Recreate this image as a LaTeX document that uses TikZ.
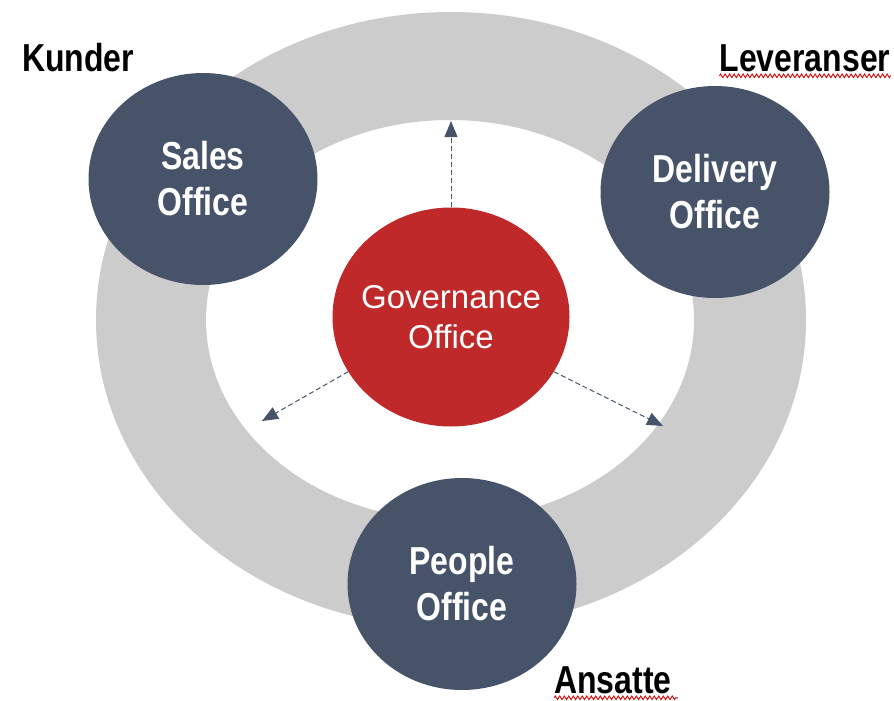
\documentclass[tikz,border=0pt]{standalone}
\usepackage{fontspec}
\usepackage{tikz}
\usetikzlibrary{shapes.geometric,arrows.meta,decorations.pathmorphing}

\newfontfamily\condfont{Liberation Sans}[FakeStretch=0.82]
\newfontfamily\govfont{Liberation Sans}

\definecolor{slate}{HTML}{465369}
\definecolor{govred}{HTML}{C0292A}
\definecolor{ringgray}{HTML}{CCCCCC}

\tikzset{
  office/.style={ellipse, fill=slate, text=white, inner sep=0pt,
    minimum width=229pt, minimum height=212pt, align=center,
    font=\condfont\bfseries\fontsize{39}{46}\selectfont},
  govoffice/.style={ellipse, fill=govred, text=white,
    inner xsep=-30pt, inner ysep=-20pt,
    minimum width=237pt, minimum height=219pt, align=center,
    font=\govfont\fontsize{33}{40}\selectfont},
  tag/.style={font=\condfont\bfseries\fontsize{39}{46}\selectfont, inner sep=0pt},
  flow/.style={draw=slate, dash pattern=on 5pt off 3pt, line width=1pt,
    -{Triangle[length=16pt,width=13pt]}},
  squiggle/.style={draw=red!85!black, line width=0.9pt,
    decorate, decoration={zigzag, segment length=4.5pt, amplitude=1.8pt}}
}

\begin{document}
\begin{tikzpicture}[x=1pt,y=-1pt]
  \useasboundingbox (0,0) rectangle (894,701);

  % Ring
  \fill[ringgray, even odd rule] (451,320) ellipse [x radius=355pt, y radius=308pt]
                                 (450,320) ellipse [x radius=244pt, y radius=200pt];

  % Governance in the middle
  \node[govoffice] (gov) at (451,317) {Governance\\Office};

  % Arrow ends
  \coordinate (upend) at (451,121);
  \coordinate (leftend) at (262,421);
  \coordinate (rightend) at (663,426);
  \draw[flow] (gov.north) -- (upend);
  \draw[flow] (gov.208) -- (leftend);
  \draw[flow] (gov.-28) -- (rightend);

  % Offices on the ring
  \node[office] (sales) at (203,179) {Sales\\Office};
  \node[office] (delivery) at (715,192) {Delivery\\Office};
  \node[office] (people) at (462,584) {People\\Office};

  % Labels
  \node[tag] (kunder) at (78,58) {Kunder};
  \node[tag] (leveranser) at (805,58) {Leveranser};
  \node[tag] (ansatte) at (613,680) {Ansatte};
  \draw[squiggle] ([yshift=-4pt]leveranser.south west) -- ([yshift=-4pt]leveranser.south east);
  \draw[squiggle] ([yshift=-4pt]ansatte.south west) -- ([yshift=-4pt,xshift=6pt]ansatte.south east);
\end{tikzpicture}
\end{document}
